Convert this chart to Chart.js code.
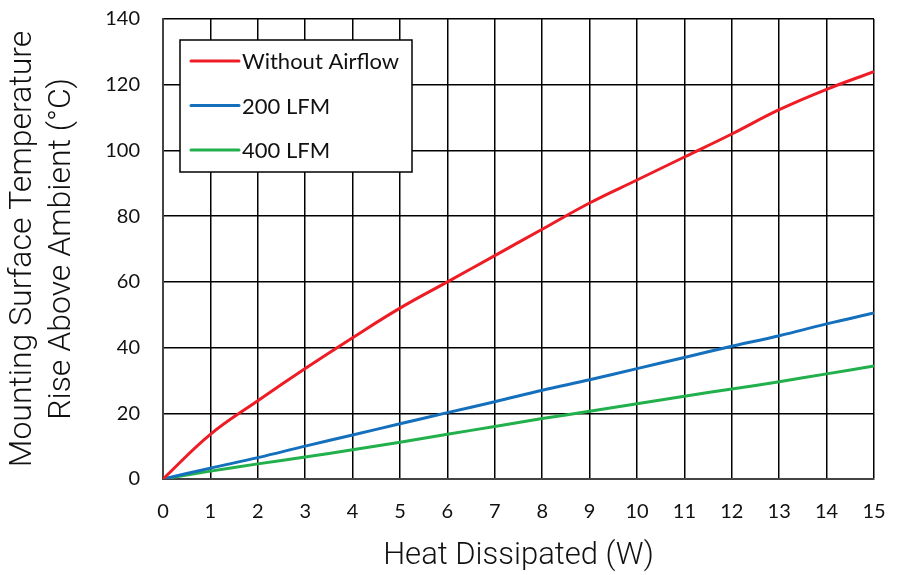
<!DOCTYPE html>
<html>
<head>
<meta charset="utf-8">
<script src="https://cdn.jsdelivr.net/npm/chart.js@4"></script>
<style>
  html, body { margin: 0; padding: 0; background: #fff; }
  #wrap { width: 906px; height: 575px; }
</style>
</head>
<body>
<div id="wrap"><canvas id="heatChart" width="906" height="575"></canvas></div>
<script>
// data
const heatW = [0, 1, 2, 3, 4, 5, 6, 7, 8, 9, 10, 11, 12, 13, 14, 15];
const noAirflow = [0, 13.6, 23.8, 33.6, 43, 52, 60, 68, 76, 84, 91, 98, 105, 112.4, 118.6, 124];
const lfm200 = [0, 3.3, 6.5, 10, 13.4, 16.8, 20.2, 23.5, 27, 30.2, 33.6, 37, 40.4, 43.6, 47.2, 50.5];
const lfm400 = [0, 2.4, 4.6, 6.7, 8.9, 11.2, 13.6, 16, 18.4, 20.6, 22.9, 25.2, 27.4, 29.6, 32, 34.4];
const seriesNames = ['Without Airflow', '200 LFM', '400 LFM'];
const seriesColors = ['#ee1c25', '#1470bd', '#21b04b'];

const toPts = arr => arr.map((v, i) => ({ x: heatW[i], y: v }));

// legend drawn inside the plot, boxed
const boxLegend = {
    id: 'boxLegend',
    afterDatasetsDraw(chart) {
        const ctx = chart.ctx;
        const x = 180, y = 40, w = 232, h = 132;
        ctx.save();
        ctx.fillStyle = '#fff';
        ctx.fillRect(x, y, w, h);
        ctx.strokeStyle = '#000';
        ctx.lineWidth = 1.5;
        ctx.strokeRect(x, y, w, h);
        ctx.font = '22px Lato, sans-serif';
        ctx.textBaseline = 'middle';
        chart.data.datasets.forEach((ds, i) => {
            const ly = 61 + i * 44.5;
            ctx.strokeStyle = ds.borderColor;
            ctx.lineWidth = 3;
            ctx.lineCap = 'round';
            ctx.beginPath();
            ctx.moveTo(191, ly);
            ctx.lineTo(239, ly);
            ctx.stroke();
            ctx.fillStyle = '#111';
            ctx.fillText(ds.label, 242, ly + 1);
        });
        ctx.restore();
    }
};

new Chart(document.getElementById('heatChart'), {
    type: 'line',
    data: {
        datasets: seriesNames.map((name, i) => ({
            label: name,
            data: toPts([noAirflow, lfm200, lfm400][i]),
            borderColor: seriesColors[i],
            borderWidth: 3,
            pointRadius: 0,
            tension: 0.4,
            fill: false
        }))
    },
    options: {
        responsive: false,
        animation: false,
        layout: { padding: { top: 19, right: 32, left: 0, bottom: 0 } },
        plugins: {
            legend: { display: false },
            tooltip: { enabled: false }
        },
        scales: {
            x: {
                type: 'linear',
                min: 0,
                max: 15,
                ticks: { stepSize: 1, color: '#111', padding: 21, font: { family: 'Lato, sans-serif', size: 20 } },
                grid: { color: '#000', lineWidth: 1.5, drawTicks: false },
                border: { color: '#444', width: 2 },
                title: {
                    display: true,
                    text: 'Heat Dissipated (W)',
                    color: '#111',
                    padding: { top: 14, bottom: 0 },
                    font: { family: 'Roboto, sans-serif', size: 31, weight: '300' }
                },
                afterFit(scale) {
                    scale.height = 96;
                    scale.paddingLeft = 0;
                    scale.paddingRight = 0;
                }
            },
            y: {
                min: 0,
                max: 140,
                ticks: { stepSize: 20, color: '#111', padding: 23, font: { family: 'Lato, sans-serif', size: 20 } },
                grid: { color: '#000', lineWidth: 1.5, drawTicks: false },
                border: { color: '#444', width: 2 },
                title: {
                    display: true,
                    text: ['Mounting Surface Temperature', 'Rise Above Ambient (°C)'],
                    color: '#111',
                    padding: { bottom: 0 },
                    font: { family: 'Roboto, sans-serif', size: 32, weight: '300', lineHeight: 1.2 }
                },
                afterFit(scale) {
                    scale.width = 163;
                    scale.paddingTop = 0;
                    scale.paddingBottom = 0;
                }
            }
        }
    },
    plugins: [boxLegend]
});
</script>
</body>
</html>
